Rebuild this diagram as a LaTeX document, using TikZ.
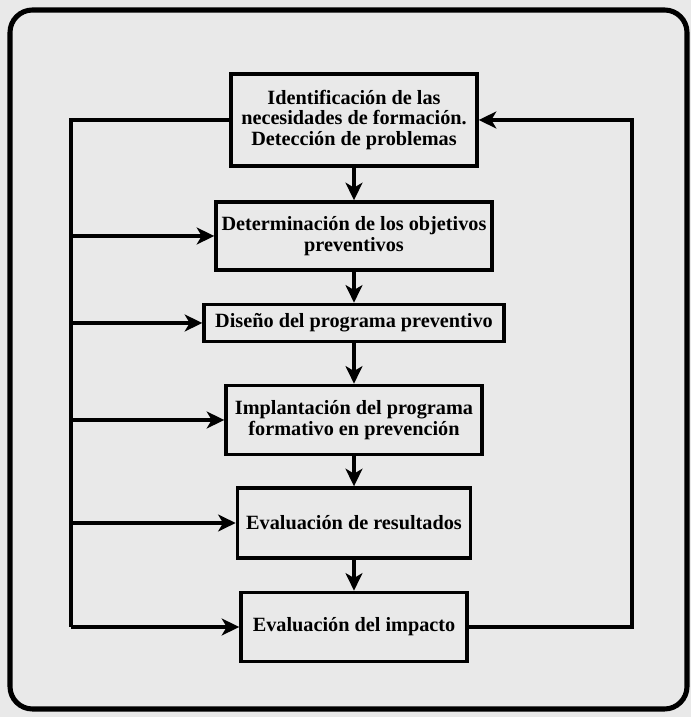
\documentclass[tikz,border=0pt]{standalone}
\usepackage{fontspec}
\setmainfont{Liberation Serif}
\usepackage{tikz}
\usetikzlibrary{arrows.meta, positioning}
\definecolor{papel}{RGB}{233,233,233}
\tikzset{
  etapa/.style={draw, line width=2.4pt, align=center, inner sep=1pt,
    font=\bfseries\fontsize{14.4}{14.6}\selectfont},
  linea/.style={line width=2.2pt},
  flecha/.style={line width=2.2pt, -{Stealth[length=12.5pt, width=12pt, inset=3.5pt]}}
}

\begin{document}
\begin{tikzpicture}
        \fill[papel] (0,0) rectangle (17.275,17.925);
        \draw[line width=3.6pt, rounded corners=16pt] (0.25,0.2) rectangle (17.175,17.675);
        % etapas
        \node[etapa, minimum width=6.15cm, minimum height=2.3cm] (identificacion) at (8.85,14.925)
            {Identificación de las\\necesidades de formación.\\Detección de problemas};
        \node[etapa, minimum width=6.9cm, minimum height=1.7cm] (objetivos) at (8.85,12.025)
            {Determinación de los objetivos\\preventivos};
        \node[etapa, minimum width=7.5cm, minimum height=0.93cm] (diseno) at (8.85,9.85)
            {Diseño del programa preventivo};
        \node[etapa, minimum width=6.4cm, minimum height=1.73cm] (implantacion) at (8.85,7.425)
            {Implantación del programa\\formativo en prevención};
        \node[etapa, minimum width=5.83cm, minimum height=1.75cm] (resultados) at (8.85,4.85)
            {Evaluación de resultados};
        \node[etapa, minimum width=5.65cm, minimum height=1.73cm] (impacto) at (8.85,2.25)
            {Evaluación del impacto};
        \draw[flecha] (identificacion) -- (objetivos);
        \draw[flecha] (objetivos) -- (diseno);
        \draw[flecha] (diseno) -- (implantacion);
        \draw[flecha] (implantacion) -- (resultados);
        \draw[flecha] (resultados) -- (impacto);
        % lazo izquierdo
        \coordinate (izq) at (1.775,14.925);
        \draw[linea] (identificacion.west) -- (izq) -- (izq |- impacto);
        \foreach \n in {objetivos, diseno, implantacion, resultados, impacto}
            \draw[flecha] (izq |- \n) -- (\n.west);
        % lazo derecho
        \coordinate (der) at (15.8,2.25);
        \draw[flecha] (impacto.east) -- (der) -- (der |- identificacion) -- (identificacion.east);
    \end{tikzpicture}
\end{document}
